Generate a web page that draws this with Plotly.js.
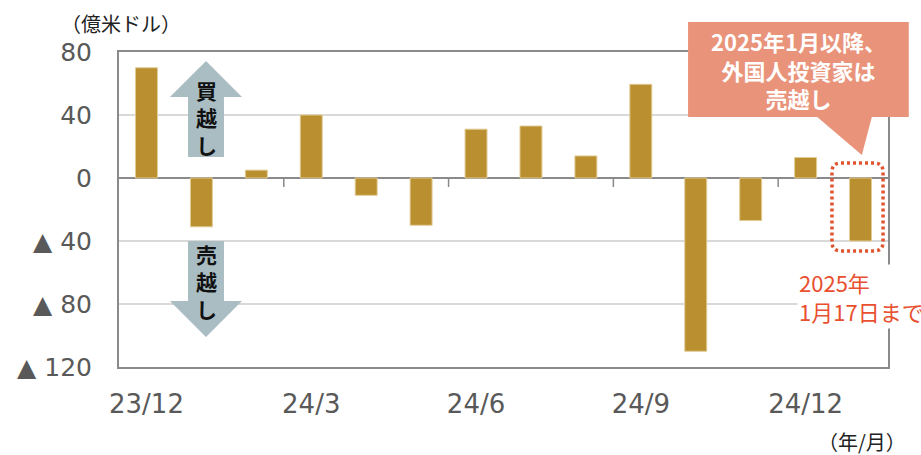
<!DOCTYPE html>
<html>
<head>
<meta charset="utf-8">
<script src="https://cdn.plot.ly/plotly-3.0.1.min.js"></script>
<style>html,body{margin:0;padding:0;background:#fff;}#chart{width:921px;height:455px;}</style>
</head>
<body>
<div id="chart"></div>
<script>
// Months (index positions) and net flows (100 million USD)
const months = ["23/12","24/1","24/2","24/3","24/4","24/5","24/6","24/7","24/8","24/9","24/10","24/11","24/12","25/1"];
const values = [70, -31, 5, 40, -11, -30, 31, 33, 14, 59.5, -110, -27, 13, -40];
const xTickLabels = ["23/12","24/3","24/6","24/9","24/12"];
const xTickIdx = [0, 3, 6, 9, 12];
const yTickVals = [80, 40, 0, -40, -80, -120];
const yTickText = ["80", "40", "0", "▲\u00a040", "▲\u00a080", "▲\u00a0120"];

const xIdx = months.map((m, i) => i);

const trace = {
  type: "bar",
  x: xIdx,
  y: values,
  width: 0.4,
  marker: { color: "#B98F2F", line: { color: "#E2CC97", width: 1 } },
  hoverinfo: "skip"
};

const arrowFill = "#AABDC3";
const tickColor = "#8A8A8A";

const shapes = [];
// tick marks on the zero line between quarters
[2.5, 5.5, 8.5, 11.5].forEach(t => {
  shapes.push({ type: "line", xref: "x", yref: "y", x0: t, x1: t, y0: 0, y1: -5.7,
    line: { color: tickColor, width: 1.5 }, layer: "above" });
});
// up arrow
shapes.push({ type: "path", xref: "x", yref: "y",
  path: "M 0.428,51.4 L 1.084,74.3 L 1.739,51.4 L 1.411,51.4 L 1.411,13.3 L 0.756,13.3 L 0.756,51.4 Z",
  fillcolor: arrowFill, line: { width: 0 }, layer: "above" });
// down arrow
shapes.push({ type: "path", xref: "x", yref: "y",
  path: "M 0.756,-40 L 1.411,-40 L 1.411,-78.1 L 1.739,-78.1 L 1.084,-101 L 0.428,-78.1 L 0.756,-78.1 Z",
  fillcolor: arrowFill, line: { width: 0 }, layer: "above" });
// dotted rounded highlight around last bar
shapes.push({ type: "path", xref: "x", yref: "y",
  path: "M 12.644,9.5 L 13.246,9.5 Q 13.41,9.5 13.41,3.8 L 13.41,-40.6 Q 13.41,-46.3 13.246,-46.3 L 12.644,-46.3 Q 12.48,-46.3 12.48,-40.6 L 12.48,3.8 Q 12.48,9.5 12.644,9.5 Z",
  line: { color: "#E0552F", width: 3.5, dash: "3px,3px" }, layer: "above" });
// callout box
shapes.push({ type: "path", xref: "paper", yref: "paper",
  path: "M 0.740,1.095 L 1.027,1.095 L 1.027,0.794 L 0.979,0.794 L 0.966,0.673 L 0.908,0.794 L 0.740,0.794 Z",
  fillcolor: "#E9937A", line: { width: 0 }, layer: "above" });

const jp = "Noto Sans CJK JP";
const annotations = [
  { xref: "x", yref: "y", x: 1.084, y: 38.7, text: "買<br>越<br>し", showarrow: false,
    xanchor: "center", yanchor: "middle",
    font: { family: jp, size: 21, color: "#111", weight: "bold" } },
  { xref: "x", yref: "y", x: 1.084, y: -66, text: "売<br>越<br>し", showarrow: false,
    xanchor: "center", yanchor: "middle",
    font: { family: jp, size: 21, color: "#111", weight: "bold" } },
  { xref: "paper", yref: "paper", x: 0.883, y: 0.945, text: "2025年1月以降、<br>外国人投資家は<br>売越し",
    showarrow: false, align: "center", xanchor: "center", yanchor: "middle",
    font: { family: jp, size: 22, color: "#FFFFFF", weight: "bold" } },
  { xref: "paper", yref: "paper", x: 0.882, y: 0.225, xanchor: "left", yanchor: "middle",
    text: "2025年<br>1月17日まで",
    showarrow: false, align: "left", bgcolor: "#FFFFFF",
    font: { family: jp, size: 22, color: "#E8502F" } },
  { xref: "paper", yref: "paper", x: 0.002, y: 1.09, text: "（億米ドル）", showarrow: false,
    xanchor: "center", yanchor: "middle",
    font: { family: jp, size: 20, color: "#222" } },
  { xref: "paper", yref: "paper", x: 0.966, y: -0.238, text: "（年/月）", showarrow: false,
    xanchor: "center", yanchor: "middle",
    font: { family: jp, size: 20, color: "#222" } }
];

const layout = {
  width: 921, height: 455,
  margin: { l: 119, r: 33, t: 52, b: 88, pad: 0 },
  paper_bgcolor: "#FFFFFF", plot_bgcolor: "#FFFFFF",
  showlegend: false,
  xaxis: {
    range: [-0.5, 13.5], tickvals: xTickIdx, ticktext: xTickLabels,
    ticks: "", showgrid: false, zeroline: false,
    showline: true, mirror: true, linecolor: tickColor, linewidth: 2,
    ticklabelstandoff: 13,
    tickfont: { family: "DejaVu Sans", size: 26, color: "#595959" }
  },
  yaxis: {
    range: [-120, 80], tickvals: yTickVals, ticktext: yTickText,
    ticks: "", showgrid: true, gridcolor: "#D9D9D9", gridwidth: 1.5,
    zeroline: true, zerolinecolor: tickColor, zerolinewidth: 2,
    showline: true, mirror: true, linecolor: tickColor, linewidth: 2,
    ticklabelstandoff: 20,
    tickfont: { family: "DejaVu Sans", size: 25, color: "#595959" }
  },
  bargap: 0.6,
  shapes: shapes,
  annotations: annotations
};

Plotly.newPlot("chart", [trace], layout, { staticPlot: true, displayModeBar: false });
</script>
</body>
</html>
